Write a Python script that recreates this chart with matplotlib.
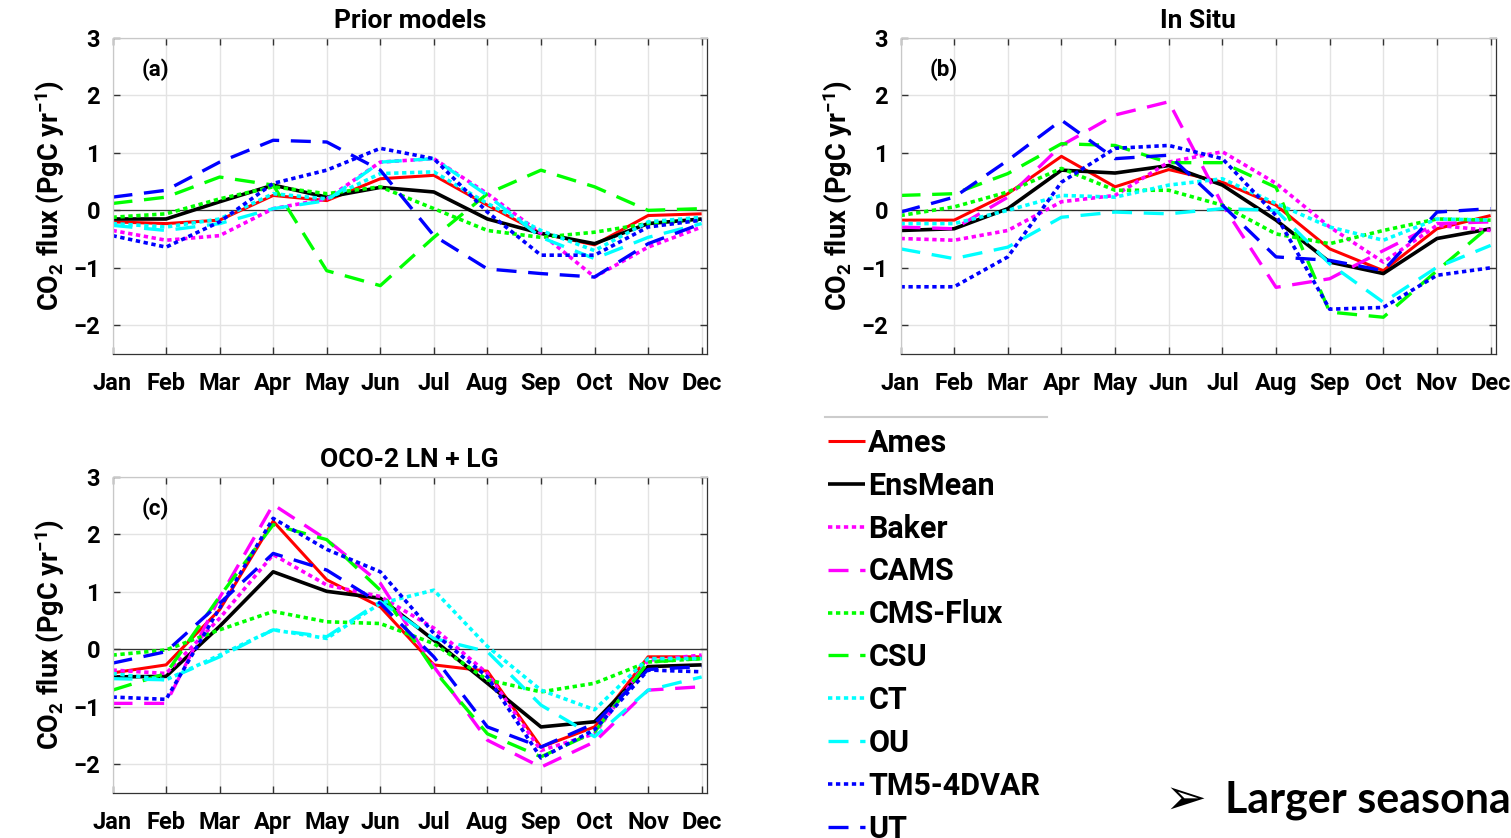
import numpy as np
import matplotlib.pyplot as plt
from matplotlib.lines import Line2D

plt.rcParams['font.family'] = ['Roboto', 'DejaVu Sans']
plt.rcParams['font.weight'] = 'bold'
plt.rcParams['axes.labelweight'] = 'bold'
plt.rcParams['mathtext.fontset'] = 'custom'
plt.rcParams['mathtext.rm'] = 'Roboto:bold'
plt.rcParams['mathtext.it'] = 'Roboto:bold'
plt.rcParams['mathtext.bf'] = 'Roboto:bold'
plt.rcParams['mathtext.default'] = 'rm'

months = ['Jan', 'Feb', 'Mar', 'Apr', 'May', 'Jun', 'Jul', 'Aug', 'Sep', 'Oct', 'Nov', 'Dec']
models = ['Ames', 'EnsMean', 'Baker', 'CAMS', 'CMS-Flux', 'CSU', 'CT', 'OU', 'TM5-4DVAR', 'UT']

# (a) prior models
ames_prior = [-0.2, -0.23, -0.17, 0.26, 0.17, 0.55, 0.61, 0.09, -0.4, -0.6, -0.09, -0.06]
ensmean_prior = [-0.15, -0.15, 0.15, 0.44, 0.23, 0.4, 0.32, -0.15, -0.4, -0.58, -0.23, -0.15]
baker_prior = [-0.35, -0.52, -0.44, 0.03, 0.2, 0.84, 0.9, 0.29, -0.4, -1.16, -0.64, -0.29]
cms_prior = [-0.12, -0.06, 0.2, 0.41, 0.29, 0.41, 0.03, -0.35, -0.47, -0.38, -0.23, -0.17]
csu_prior = [0.12, 0.23, 0.58, 0.44, -1.05, -1.31, -0.47, 0.29, 0.7, 0.41, 0.0, 0.03]
ct_prior = [-0.23, -0.29, -0.15, 0.29, 0.2, 0.64, 0.67, 0.12, -0.35, -0.7, -0.2, -0.12]
ou_prior = [-0.26, -0.35, -0.23, 0.03, 0.17, 0.84, 0.9, 0.26, -0.47, -0.84, -0.47, -0.23]
tm5_prior = [-0.44, -0.64, -0.2, 0.47, 0.7, 1.08, 0.9, -0.03, -0.78, -0.78, -0.29, -0.17]
ut_prior = [0.23, 0.35, 0.84, 1.22, 1.19, 0.7, -0.44, -1.02, -1.1, -1.16, -0.58, -0.23]

# (b) in situ inversions
ames_insitu = [-0.17, -0.17, 0.29, 0.94, 0.41, 0.71, 0.49, 0.09, -0.67, -1.05, -0.32, -0.09]
ensmean_insitu = [-0.35, -0.32, 0.03, 0.7, 0.65, 0.78, 0.44, -0.17, -0.9, -1.1, -0.49, -0.32]
baker_insitu = [-0.49, -0.52, -0.35, 0.15, 0.26, 0.84, 1.02, 0.47, -0.29, -0.9, -0.26, -0.35]
cams_insitu = [-0.29, -0.32, 0.23, 1.13, 1.66, 1.89, 0.1, -1.34, -1.19, -0.7, -0.23, -0.2]
cms_insitu = [-0.09, 0.06, 0.32, 0.73, 0.35, 0.35, 0.09, -0.41, -0.58, -0.35, -0.15, -0.17]
csu_insitu = [0.26, 0.29, 0.64, 1.16, 1.13, 0.83, 0.83, 0.4, -1.77, -1.86, -1.05, -0.26]
ct_insitu = [-0.23, -0.23, 0.0, 0.26, 0.23, 0.44, 0.55, 0.12, -0.29, -0.52, -0.15, -0.17]
ou_insitu = [-0.67, -0.84, -0.64, -0.12, -0.03, -0.06, 0.03, 0.0, -0.93, -1.6, -0.99, -0.61]
tm5_insitu = [-1.33, -1.33, -0.81, 0.49, 1.08, 1.13, 0.9, -0.09, -1.72, -1.69, -1.13, -1.0]
ut_insitu = [-0.03, 0.23, 0.87, 1.57, 0.9, 0.96, 0.09, -0.81, -0.87, -1.05, -0.03, 0.03]

# (c) OCO-2 land nadir + land glint
ames_oco2 = [-0.41, -0.27, 0.69, 2.23, 1.21, 0.74, -0.27, -0.38, -1.7, -1.35, -0.13, -0.13]
ensmean_oco2 = [-0.48, -0.47, 0.4, 1.35, 1.01, 0.89, 0.16, -0.59, -1.35, -1.26, -0.3, -0.27]
baker_oco2 = [-0.36, -0.42, 0.54, 1.65, 1.12, 0.92, 0.37, -0.42, -1.76, -1.47, -0.19, -0.1]
cams_oco2 = [-0.94, -0.94, 0.9, 2.52, 1.91, 1.15, -0.3, -1.58, -2.05, -1.61, -0.71, -0.65]
cms_oco2 = [-0.1, -0.01, 0.34, 0.66, 0.48, 0.45, 0.1, -0.53, -0.74, -0.59, -0.22, -0.16]
csu_oco2 = [-0.71, -0.42, 0.92, 2.17, 1.91, 1.03, -0.36, -1.47, -1.87, -1.44, -0.22, -0.16]
ct_oco2 = [-0.42, -0.53, -0.1, 0.34, 0.19, 0.8, 1.03, 0.05, -0.71, -1.05, -0.16, -0.16]
ou_oco2 = [-0.51, -0.53, -0.13, 0.34, 0.22, 0.83, 0.19, -0.04, -0.97, -1.52, -0.71, -0.48]
tm5_oco2 = [-0.83, -0.87, 0.72, 2.28, 1.74, 1.35, 0.28, -0.48, -1.89, -1.4, -0.36, -0.39]
ut_oco2 = [-0.24, -0.04, 0.8, 1.67, 1.38, 0.8, -0.13, -1.35, -1.7, -1.29, -0.35, -0.3]

colors = ['#ff0000', '#000000', '#ff00ff', '#ff00ff', '#00ff00', '#00ff00',
          '#00ffff', '#00ffff', '#0000ff', '#0000ff']
styles = ['-', '-', 'dot', 'dash', 'dot', 'dash', 'dot', 'dash', 'dot', 'dash']

panels = [
    ('Prior models', '(a)', [ames_prior, ensmean_prior, baker_prior, None, cms_prior,
                             csu_prior, ct_prior, ou_prior, tm5_prior, ut_prior]),
    ('In Situ', '(b)', [ames_insitu, ensmean_insitu, baker_insitu, cams_insitu, cms_insitu,
                        csu_insitu, ct_insitu, ou_insitu, tm5_insitu, ut_insitu]),
    ('OCO-2 LN + LG', '(c)', [ames_oco2, ensmean_oco2, baker_oco2, cams_oco2, cms_oco2,
                              csu_oco2, ct_oco2, ou_oco2, tm5_oco2, ut_oco2]),
]

W, H = 1511, 838
fig = plt.figure(figsize=(W / 100, H / 100), dpi=100)


def box(left, top, right, bottom):
    return [left / W, 1 - bottom / H, (right - left) / W, (bottom - top) / H]


rects = [box(112.5, 38, 707, 354), box(900.5, 38, 1496, 354), box(112.5, 477, 707, 793)]
x = np.arange(1, 13)


def line_kw(style, color):
    kw = dict(color=color, solid_capstyle='butt', dash_capstyle='butt')
    if style == 'dot':
        kw.update(lw=2.6, linestyle=(0, (1.2, 1.0)))
    elif style == 'dash':
        kw.update(lw=2.4, linestyle=(0, (6, 3.5)))
    else:
        kw.update(lw=2.6 if color == '#000000' else 2.2, linestyle='-')
    return kw


for (title, tag, series), rect in zip(panels, rects):
    ax = fig.add_axes(rect)
    ax.axhline(0, color='#333333', lw=0.9, zorder=1)
    for name, vals, c, s in zip(models, series, colors, styles):
        if vals is None:
            continue
        ax.plot(x, vals, zorder=2, **line_kw(s, c))
    ax.set_xlim(1, 12.1)
    ax.set_ylim(-2.5, 3)
    ax.set_xticks(x)
    ax.set_xticklabels(months)
    ax.set_yticks([-2, -1, 0, 1, 2, 3])
    ax.grid(True, color='#e3e3e3', lw=1.0)
    ax.set_axisbelow(True)
    ax.tick_params(direction='in', length=5, width=1, color='#333333',
                   labelsize=17, top=True, right=True)
    ax.tick_params(axis='x', pad=13)
    ax.tick_params(axis='y', pad=9)
    for side in ['left', 'top']:
        ax.spines[side].set_color('#c8c8c8')
    for side in ['bottom', 'right']:
        ax.spines[side].set_color('#333333')
    for sp in ax.spines.values():
        sp.set_linewidth(0.9)
    ax.set_title(title, fontsize=19, fontweight='bold', pad=7)
    ax.set_ylabel('CO$_2$ flux (PgC yr$^{-1}$)', fontsize=19.5, fontweight='bold', labelpad=5)
    ax.text(1.8, 2.45, tag, fontsize=16, fontweight='bold', ha='center', va='center')

# shared legend
handles = [Line2D([], [], **line_kw(s, c)) for c, s in zip(colors, styles)]
fig.legend(handles, models, loc='upper left', bbox_to_anchor=(828 / W, 1 - 428 / H),
           frameon=False, fontsize=22, handlelength=1.2, handletextpad=0.12,
           labelspacing=0.42, borderpad=0, borderaxespad=0)
fig.add_artist(Line2D([825 / W, 1047 / W], [1 - 417 / H] * 2, color='#cccccc', lw=1.5))

fig.text(1164 / W, 1 - 800 / H, '\u27a2', fontsize=36, family=['DejaVu Sans'],
         fontweight='normal', va='center', ha='left')
fig.text(1225 / W, 1 - 800 / H, 'Larger seasonal', fontsize=31,
         family=['Lato', 'DejaVu Sans'], fontweight='bold', va='center', ha='left')

fig.savefig('out.png', dpi=100)
